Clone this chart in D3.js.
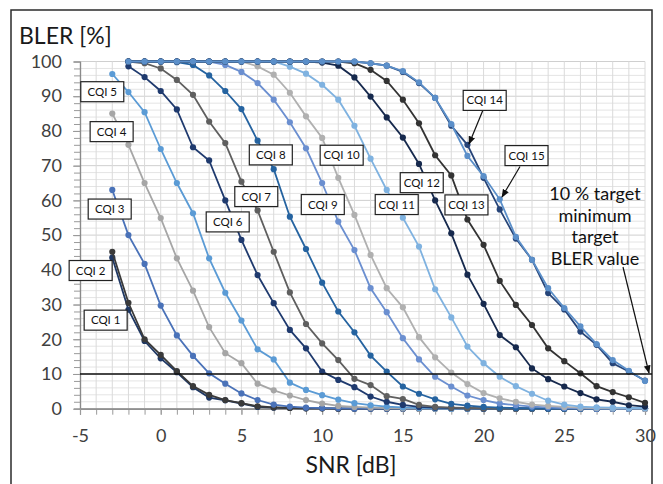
<!DOCTYPE html>
<html><head><meta charset="utf-8">
<script src="https://cdn.jsdelivr.net/npm/d3@7/dist/d3.min.js"></script>
<style>html,body{margin:0;padding:0;background:#fff;} svg{display:block;font-family:Lato,'Open Sans',sans-serif;}</style>
</head><body><svg id="chart" width="663" height="484"></svg>
<script>
// ---------- data ----------
const snr = [-3,-2,-1,0,1,2,3,4,5,6,7,8,9,10,11,12,13,14,15,16,17,18,19,20,21,22,23,24,25,26,27,28,29,30];
const cqiNames = ['CQI 1','CQI 2','CQI 3','CQI 4','CQI 5','CQI 6','CQI 7','CQI 8','CQI 9','CQI 10','CQI 11','CQI 12','CQI 13','CQI 14','CQI 15'];
const cqi1 = [43.5,28.5,19.5,14.5,10.5,6.2,3.2,2.4,1.5,0.5,0.3,0.2,0.1,0.1,0,0,0,0,0,0,0,0,0,0,0,0,0,0,0,0,0,0,0,0];
const cqi2 = [45.2,30.5,20,15.5,10.8,6.5,4,2.5,1.6,0.7,0.4,0.2,0.1,0.1,0,0,0,0,0,0,0,0,0,0,0,0,0,0,0,0,0,0,0,0];
const cqi3 = [63,50,41.7,29.7,21.1,15.2,10.2,7.2,4.4,2.5,1.2,0.6,0.3,0.2,0.1,0,0,0,0,0,0,0,0,0,0,0,0,0,0,0,0,0,0,0];
const cqi4 = [85,76,65,54.9,43.3,34,23.5,16,13.1,7.2,5.3,3.8,2.5,1.5,0.8,0.5,0.3,0.2,0.1,0,0,0,0,0,0,0,0,0,0,0,0,0,0,0];
const cqi5 = [96.4,91.2,85.4,74.8,65,56.3,43.3,33.4,25.4,17.1,14.2,7.5,5.4,3.9,2.6,1.6,1,0.6,0.4,0.2,0.1,0,0,0,0,0,0,0,0,0,0,0,0,0];
const cqi6 = [null,98.6,95.5,91.5,86.2,75.3,71.5,60,48.6,38.5,30.4,22.7,17.4,10.7,8.3,6.2,3.5,2,1.1,0.5,0.3,0.2,0.1,0,0,0,0,0,0,0,0,0,0,0];
const cqi7 = [null,100,99.5,98,94.7,90.4,82.7,76.5,65.4,57.1,45.2,33.5,24.4,18.8,14,8.6,6.8,3.6,2.8,1.1,0.5,0.3,0.2,0.1,0,0,0,0,0,0,0,0,0,0];
const cqi8 = [null,100,100,100,99.8,99,96,91.5,86.3,77.2,69,55.3,46,36.3,28,22,15.3,10.7,6.4,4.3,2.7,1.4,0.9,0.5,0.3,0.2,0.1,0,0,0,0,0,0,0];
const cqi9 = [null,100,100,100,100,100,100,99,97,93.8,89,82.5,75,65,53.9,45.7,34.7,27.8,20.3,14.2,9.2,6.4,3.8,2.5,1.5,1,0.6,0.4,0.2,0.1,0,0,0,0];
const cqi10 = [null,100,100,100,100,100,100,100,100,98.6,96.2,91,84.2,78,66.5,55.8,44.3,34.7,29.2,20.6,14.8,10.4,7.1,4.5,3,2,1.2,0.8,0.5,0.3,0.2,0.1,0.1,0];
const cqi11 = [null,100,100,100,100,100,100,100,100,100,100,98.5,96.5,93.3,89,81.5,72,63,55,46.7,34.4,26.3,17.9,13.1,9.2,6.5,4.3,2.3,1.2,0.6,0.4,0.3,0.2,0.2];
const cqi12 = [null,100,100,100,100,100,100,100,100,100,100,100,100,99.7,98.8,95.4,89.9,83.9,78.1,70.5,60,50.5,38.6,30.2,21.2,17.7,11.6,8.5,6.4,4.5,2.7,2,1,0.6];
const cqi13 = [null,100,100,100,100,100,100,100,100,100,100,100,100,100,100,99.5,97.6,94.4,89,82.2,73,67.2,54.5,47.2,36.8,29.9,24.1,17.4,13.7,10.2,6.5,4.8,3.3,1.7];
const cqi14 = [null,100,100,100,100,100,100,100,100,100,100,100,100,100,100,100,99.5,98.8,97,93.8,89.5,81.5,76,66.5,57.4,49,42.9,33.3,28.6,22.2,18.4,13.1,10.7,8.1];
const cqi15 = [null,100,100,100,100,100,100,100,100,100,100,100,100,100,100,100,99.5,98.8,97.2,94,89.5,82,72.8,67,60.3,49.5,42.9,34.7,29,23.7,18.6,14,10.9,8];
const seriesValues = [cqi1,cqi2,cqi3,cqi4,cqi5,cqi6,cqi7,cqi8,cqi9,cqi10,cqi11,cqi12,cqi13,cqi14,cqi15];
const yTicks = [0,10,20,30,40,50,60,70,80,90,100];
const xTicks = [-5,0,5,10,15,20,25,30];
const targetBler = 10;
const yTitle = 'BLER [%]';
const xTitle = 'SNR [dB]';
const noteLines = ['10 % target','minimum','target','BLER value'];

// ---------- styles / layout ----------
const colors = ['#1f3864','#3a3a3a','#4a72b8','#a6a6a6','#5b9bd5','#1f3a6e','#5f5f5f','#2563a0','#6b8fd0','#b0b0b0','#7fb2e0','#16294d','#333333','#264478','#5b8fc9'];
// label box centres in data units [snr, bler]
const labelPos = [[-3.41,25.5],[-4.34,39.8],[-3.16,57.5],[-3.04,79.8],[-3.62,91.3],[4.15,53.8],[5.92,61.1],[6.82,73.1],[10.04,58.8],[11.21,73.0],[14.62,58.8],[16.17,65.1],[18.94,58.7],[20.07,88.8],[22.66,72.9]];

const svg = d3.select('#chart');
const x = d3.scaleLinear().domain([-5,30]).range([80,645]);
const y = d3.scaleLinear().domain([0,100]).range([408.7,61.5]);

// frame
svg.append('rect').attr('x',11).attr('y',10).attr('width',641).attr('height',500)
  .attr('fill','none').attr('stroke','#2b2b2b').attr('stroke-width',1.5);

// grid
const grid = svg.append('g');
grid.selectAll('.hmin').data(d3.range(0,101,2)).join('line')
  .attr('x1',x(-5)).attr('x2',x(30)).attr('y1',d=>y(d)).attr('y2',d=>y(d))
  .attr('stroke',d=>d%10===0?'#cfcfcf':'#e4e4e4').attr('stroke-width',1);
grid.selectAll('.v').data(d3.range(-4,31,1)).join('line')
  .attr('x1',d=>x(d)).attr('x2',d=>x(d)).attr('y1',y(0)).attr('y2',y(100))
  .attr('stroke','#dadada').attr('stroke-width',1);

// axes
const fmt = d=>String(d);
const yMinor = svg.append('g').attr('transform',`translate(${x(-5)},0)`)
  .call(d3.axisLeft(y).tickValues(d3.range(0,101,2)).tickSize(6).tickFormat(''));
const yAx = svg.append('g').attr('transform',`translate(${x(-5)},0)`)
  .call(d3.axisLeft(y).tickValues(yTicks).tickSizeInner(7).tickSizeOuter(0).tickPadding(11).tickFormat(fmt));
const xMinor = svg.append('g').attr('transform',`translate(0,${y(0)})`)
  .call(d3.axisBottom(x).tickValues(d3.range(-5,31,1)).tickSize(6).tickFormat(''));
const xAx = svg.append('g').attr('transform',`translate(0,${y(0)})`)
  .call(d3.axisBottom(x).tickValues(xTicks).tickSizeInner(6).tickSizeOuter(0).tickPadding(15).tickFormat(fmt));
[yMinor,yAx,xMinor,xAx].forEach(g=>{
  g.selectAll('path').attr('stroke','#8a8a8a').attr('stroke-width',1.2);
  g.selectAll('line').attr('stroke','#9a9a9a');
  g.selectAll('text').attr('font-size',18).attr('fill','#404040').attr('font-family','Lato');
});

// titles
svg.append('text').attr('x',19).attr('y',44).attr('font-size',23).attr('fill','#1a1a1a').text(yTitle);
svg.append('text').attr('x',351).attr('y',473).attr('text-anchor','middle').attr('font-size',23).attr('fill','#1a1a1a').text(xTitle);

// series
const line = d3.line().defined(d=>d[1]!==null).x(d=>x(d[0])).y(d=>y(d[1]));
seriesValues.forEach((vals,i)=>{
  const pts = snr.map((s,j)=>[s,vals[j]]);
  const g = svg.append('g');
  g.append('path').datum(pts).attr('d',line).attr('fill','none')
    .attr('stroke',colors[i]).attr('stroke-width',1.8);
  g.selectAll('circle').data(pts.filter(d=>d[1]!==null)).join('circle')
    .attr('cx',d=>x(d[0])).attr('cy',d=>y(d[1])).attr('r',3.1).attr('fill',colors[i]);
});

// target line
svg.append('line').attr('x1',x(-5)).attr('x2',652).attr('y1',y(targetBler)).attr('y2',y(targetBler))
  .attr('stroke','#111').attr('stroke-width',1.4);

// arrow marker
svg.append('defs').append('marker').attr('id','ah').attr('viewBox','0 0 10 10').attr('refX',9).attr('refY',5)
  .attr('markerWidth',7).attr('markerHeight',7).attr('orient','auto')
  .append('path').attr('d','M0,1 L10,5 L0,9 Z').attr('fill','#111');

// arrows
const arrows = [[[483,110],[469,144]],[[520,166.5],[502,197]],[[623,267],[649,373]]];
arrows.forEach(a=>svg.append('line').attr('x1',a[0][0]).attr('y1',a[0][1]).attr('x2',a[1][0]).attr('y2',a[1][1])
  .attr('stroke','#111').attr('stroke-width',1.2).attr('marker-end','url(#ah)'));

// label boxes
cqiNames.forEach((n,i)=>{
  const cx = x(labelPos[i][0]), cy = y(labelPos[i][1]);
  const g = svg.append('g');
  g.append('rect').attr('x',cx-21.5).attr('y',cy-10).attr('width',43).attr('height',20)
    .attr('fill','#fff').attr('stroke','#222').attr('stroke-width',1.2);
  g.append('text').attr('x',cx).attr('y',cy+4).attr('text-anchor','middle').attr('font-size',11.5)
    .attr('fill','#111').text(n);
});

// note text
const note = svg.append('text').attr('text-anchor','middle').attr('font-size',18).attr('fill','#111');
noteLines.forEach((t,i)=>note.append('tspan').attr('x',595).attr('y',200+i*21.7).text(t));
</script></body></html>
